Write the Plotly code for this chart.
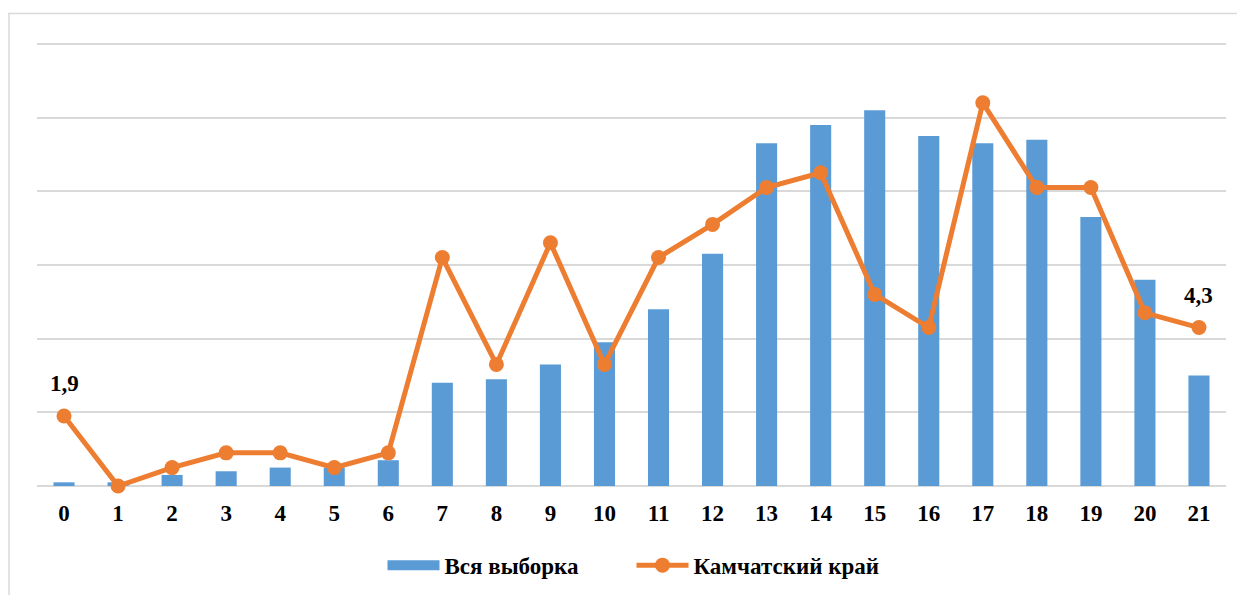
import plotly.graph_objects as go

categories = [str(i) for i in range(22)]
all_sample = [0.1, 0.1, 0.3, 0.4, 0.5, 0.5, 0.7, 2.8, 2.9, 3.3, 3.9, 4.8, 6.3, 9.3,
              9.8, 10.2, 9.5, 9.3, 9.4, 7.3, 5.6, 3.0]
kamchatka = [1.9, 0.0, 0.5, 0.9, 0.9, 0.5, 0.9, 6.2, 3.3, 6.6, 3.3, 6.2, 7.1, 8.1,
             8.5, 5.2, 4.3, 10.4, 8.1, 8.1, 4.7, 4.3]
labeled_points = [0, 21]

BLUE = "#5B9BD5"
ORANGE = "#ED7D31"
FONT = "'Liberation Serif', 'Times New Roman', 'DejaVu Serif', serif"
bold = dict(family=FONT, size=23, color="black", weight="bold")


def b(s):
    return f"<b>{s}</b>"


fig = go.Figure()
fig.add_trace(go.Bar(
    x=categories, y=all_sample, name=b("Вся выборка"), showlegend=False,
    marker=dict(color=BLUE, line=dict(width=0)),
))
# legend-only entry drawn as a wide blue swatch
fig.add_trace(go.Scatter(
    x=[None], y=[None], name=b("Вся выборка"), mode="lines",
    line=dict(color=BLUE, width=11), showlegend=True,
))
fig.add_trace(go.Scatter(
    x=categories, y=kamchatka, name=b("Камчатский край"),
    mode="lines+markers",
    line=dict(color=ORANGE, width=5),
    marker=dict(color=ORANGE, size=15),
    cliponaxis=False,
))

annotations = [
    dict(x=categories[i], y=kamchatka[i], xref="x", yref="y",
         text=b(f"{kamchatka[i]:.1f}".replace(".", ",")), showarrow=False,
         yshift=32, font=bold)
    for i in labeled_points
]

fig.update_layout(
    width=1237, height=587,
    margin=dict(l=29, r=19, t=33.5, b=108.5, autoexpand=False),
    paper_bgcolor="white", plot_bgcolor="white",
    bargap=0.61,
    font=bold,
    showlegend=True,
    legend=dict(orientation="h", x=0.5, xanchor="center", y=-0.13, yanchor="top",
                font=bold, itemwidth=52, traceorder="normal",
                entrywidth=182, entrywidthmode="pixels"),
    xaxis=dict(type="category", range=[-0.5, 21.5], showgrid=False, zeroline=False,
               showline=False, ticks="", tickfont=bold, ticklabelstandoff=11,
               tickvals=categories, ticktext=[b(c) for c in categories]),
    yaxis=dict(range=[0, 12.05], tickvals=[0, 2, 4, 6, 8, 10, 12],
               showticklabels=False, showgrid=True,
               gridcolor="#D9D9D9", gridwidth=1.5, zeroline=True,
               zerolinecolor="#D9D9D9", zerolinewidth=1.5, showline=False),
    annotations=annotations,
    shapes=[
        dict(type="line", xref="paper", yref="paper", x0=-0.0244, x1=1.02,
             y0=1.064, y1=1.064, line=dict(color="#D9D9D9", width=1.5)),
        dict(type="line", xref="paper", yref="paper", x0=-0.0235, x1=-0.0235,
             y0=1.064, y1=-0.3, line=dict(color="#D9D9D9", width=1.5)),
    ],
)

fig.write_html("out.html")
